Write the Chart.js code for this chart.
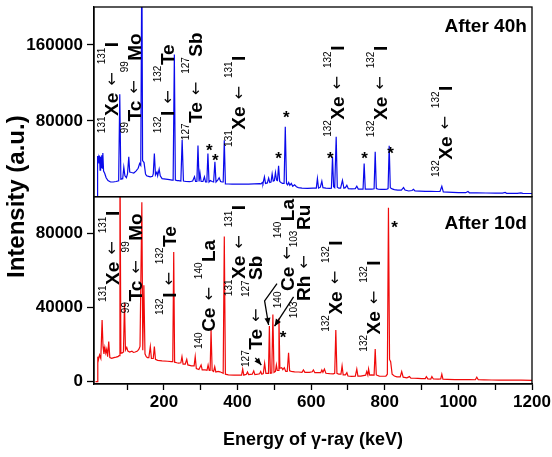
<!DOCTYPE html>
<html><head><meta charset="utf-8">
<script src="https://cdn.jsdelivr.net/npm/chart.js@4/dist/chart.umd.min.js"></script>
<style>html,body{margin:0;padding:0;background:#fff}#c{display:block}</style>
</head><body>
<canvas id="c" width="552" height="457"></canvas>
<script>
// ---------- data ----------
const energy40h = [15,18.5,19,20.5,22,23.5,25,26.5,28,29.5,31,32.5,34,36,39,43,48,55,62,70,77,80,83,88,91,94,98,101,104.5,107,112,118,124,130,134,137,140,142,146,150,153,158,163,169,171,174,177,181,183,187,190,195,205,215,222,225,228.3,231,236,240,246,249.5,253,260,270,278,283,286,289.5,292.5,295.5,298,301,306,310,313,316.5,319.5,322.5,326,331,335,338.5,341.5,346,350,354,358,361,364,367,375,385,400,415,430,445,460,464,467,469,473,476,481,484.5,487.5,491,494,497,500,503,506,508.5,511.5,514.5,518,522,526.5,529.7,533,536,539,542,546,550,555,560,565,575,590,605,614,617,620,625,629,632,640,650,655,658,661,664,668,671,675,680,685,689,693,697,701,710,720,724,728,735,741,744,747,755,765,771,774,777,782,790,800,806,809,812,815,820,826,835,845,851,855,865,874,878,882,895,910,925,940,950,955,959,970,985,1000,1020,1026,1030,1050,1075,1100,1120,1127,1131,1145,1160,1170,1175,1200];
const counts40h = [0,0,43000,36000,41000,35000,43500,28000,42000,31000,43700,30000,46000,27000,24700,20000,17000,15500,15500,16000,16800,108000,18500,19000,31000,22000,20000,24000,42000,26000,25500,25000,27000,30000,35000,33000,260000,38000,36000,24000,22000,21500,21000,21500,24000,45500,23000,26000,22000,29000,22000,19000,18500,18000,17500,17500,150000,17500,17000,17000,16500,60000,16500,16000,15800,16500,21000,16000,16000,54000,16000,25000,16000,16000,21000,15500,15500,45500,15500,17000,16000,15500,36700,15500,17500,20000,16000,15500,15500,59600,13500,13400,13300,13300,13200,13200,13500,13800,13500,15000,13700,20800,14000,14500,19500,15000,15500,24000,16500,17000,25500,17500,17000,32500,16000,15000,14000,14000,73700,14000,12500,15000,12000,14000,11000,12500,10500,9600,9000,8800,9000,9000,19100,9000,10000,16300,9500,9000,8800,9000,42000,10500,9500,63100,10000,9000,9000,17300,9000,9500,12000,8500,8200,8500,11000,8000,8000,8000,35000,8000,8000,8000,8300,47300,8500,8000,7800,7800,8000,8500,53600,9500,8200,7500,7000,7000,9600,7000,6000,6500,7800,6000,5800,5600,5600,5500,5500,11000,5000,4800,4500,4300,4200,5500,4100,4000,3900,3800,3700,4500,3600,3600,3500,4000,3500,3400];

const energy10d = [14,19.5,20.3,22,25,28.5,32,34.5,37,39.5,42,44.5,47,50,53,58,64,70,75,78,80.5,83,87,90,92.8,95.5,99,102,107,113,117,122,128,132,135,140,142.5,145.5,148.5,152,155,159,163,166,171,174,177,183,195,210,220,224,226.6,229,235,240,246,249,252,258,262,265,275,282,285,288,295,301,304,312,317,320,323,325.5,328,331,335,338,341,347,352,358,361,364,367,375,390,405,411,414,417,424,427,430,440,444,447,455,460,463,466,470,473.6,477,481,484,486.5,489,493,496,499,503,505.5,508,510,512.5,515,520,523,527,531,535,538.6,541.5,546,555,566,575,579,583,595,603,606,610,620,626,629,632,636,640,650,660,664,667,670,675,681,684,687,693,697,700,710,720,724,727,735,748,751,754,756,759,764,771,774,777,785,795,803,807,810,813,816,820,826,833,842,846,850,860,867,871,880,890,900,910,913,917,925,928,932,945,952,955,958,970,990,1010,1030,1046,1050,1054,1070,1090,1110,1130,1150,1170,1200];
const counts10d = [0,0,13500,11700,14400,12500,33300,18900,15000,18500,15500,17500,13500,21600,13000,12600,13000,13200,13500,14000,130000,15300,15500,16000,42600,17100,18500,16500,16000,16500,15800,16000,16500,17500,19000,97000,17000,52100,15000,13500,13000,13000,18900,12500,12500,19000,12000,11500,11200,11000,10800,10800,70100,10500,10200,10000,10200,13500,9500,9500,12000,9000,8500,8500,13500,7000,6500,9000,6300,6300,6100,9000,6000,6000,27900,6000,5500,8000,5200,5500,5300,4800,4500,78500,4000,3600,3500,3500,3500,6800,3500,4000,5200,3800,4000,5800,3800,4000,4200,5500,4000,4300,9900,4500,4500,4500,30000,4500,4700,36300,5000,5500,9000,6000,6000,34200,7200,7500,6500,7500,5500,5500,15600,5800,5500,5300,5200,5000,6300,5000,5000,5300,6300,4800,4800,4800,6300,5000,6800,4500,4300,4200,4500,27900,4500,4000,4000,8500,3600,3600,4800,3000,2800,2900,6800,3000,3000,3500,5400,3500,6800,3500,3600,3500,17600,3600,3000,2900,3000,4000,94000,12000,10800,4000,3000,2600,2500,5400,2400,2000,2700,1900,1800,1700,1600,1600,2700,1500,1400,2700,1400,1300,1400,4000,1300,1200,1100,1100,1050,1000,2400,1000,900,850,800,800,750,750,700];

const xTicks = [100,200,300,400,500,600,700,800,900,1000,1100,1200];
const xTickLabels = [200,400,600,800,1000,1200];
const topTicks = [80000,160000];
const bottomTicks = [0,40000,80000];
const panelTitles = ['After 40h','After 10d'];
const xTitle = 'Energy of γ-ray (keV)';
const yTitle = 'Intensity (a.u.)';

// ---------- annotations (data coordinates: energy keV, intensity) ----------
const topLabels = [
  {e:56.9,  v:67000, t:'^131Xe ←^131I'},
  {e:118,   v:67000, t:'^99Tc ←^99Mo'},
  {e:209.5, v:67000, t:'^132I ←^132Te'},
  {e:285.4, v:59600, t:'^127Te ←^127Sb'},
  {e:403,   v:52500, t:'^131Xe ←^131I'},
  {e:670,   v:63100, t:'^132Xe ←^132I'},
  {e:787.5, v:62800, t:'^132Xe ←^132I'},
  {e:964,   v:20800, t:'^132Xe ←^132I'}
];
const bottomLabels = [
  {e:59.4,  v:43000, t:'^131Xe ←^131I'},
  {e:122.6, v:37000, t:'^99Tc ←^99Mo'},
  {e:213,   v:36000, t:'^132I ←^132Te'},
  {e:321.5, v:17600, t:'^140Ce ←^140La'},
  {e:403,   v:46200, t:'^131Xe ←^131I'},
  {e:448.3, v:7900,  t:'^127Te ←'},
  {e:448.3, v:45700, t:'^127Sb'},
  {e:534.3, v:39700, t:'^140Ce ←^140La'},
  {e:579.3, v:34300, t:'^103Rh ←^103Ru'},
  {e:665.3, v:26950, t:'^132Xe ←^132I'},
  {e:769.3, v:16200, t:'^132Xe ←^132I'}
];
const topStars = [[323.4,53300],[339.7,43000],[511.5,44800],[532.4,87800],[651.8,44800],[744.9,44800],[815.5,50100]];
const bottomStars = [[523.4,26400],[826.3,85900]];
const bottomPointers = [
  [[507.2,53000],[473.5,43700],[484.4,30600]],
  [[552.2,45800],[500.6,30000]],
  [[448.3,12800],[464.5,9000]]
];
const panelTitlePos = [[1186,181200],[1186,86240]];

// ---------- drawing ----------
const FAM = "'Liberation Sans', Arial, Helvetica, sans-serif";
const MAIN_FONT = "bold 19px " + FAM;
const SUP_FONT = "10px " + FAM;
const ARROW_FONT = "16px 'DejaVu Sans', sans-serif";

function drawRotated(ctx, x, y, spec) {
  ctx.save();
  ctx.translate(x, y);
  ctx.rotate(-Math.PI / 2);
  ctx.textAlign = 'left';
  ctx.textBaseline = 'alphabetic';
  ctx.fillStyle = '#000';
  let s = 0;
  const re = /\^(\d+)|(←)|([^\^←\s]+)/g;
  let m;
  while ((m = re.exec(spec)) !== null) {
    if (m[1]) { ctx.font = SUP_FONT; ctx.fillText(m[1], s, -6.2); s += ctx.measureText(m[1]).width + 0.5; }
    else if (m[2]) { s += 7; ctx.font = ARROW_FONT; ctx.fillText('←', s, 5.3); s += ctx.measureText('←').width + 8; }
    else { ctx.font = MAIN_FONT; ctx.fillText(m[3], s, 6.8); s += ctx.measureText(m[3]).width; }
  }
  ctx.restore();
}

const clipPlugin = {
  id: 'panelClip',
  beforeDatasetDraw(chart, args) {
    const y = args.meta.yScale, a = chart.chartArea, ctx = chart.ctx;
    ctx.save();
    ctx.beginPath();
    ctx.rect(a.left, y.top, a.right - a.left, y.bottom - y.top);
    ctx.clip();
  },
  afterDatasetDraw(chart) { chart.ctx.restore(); }
};

const annotPlugin = {
  id: 'annot',
  afterDraw(chart) {
    const ctx = chart.ctx, a = chart.chartArea, x = chart.scales.x;
    const yT = chart.scales.yTop, yB = chart.scales.yBottom;
    ctx.save();
    ctx.strokeStyle = '#000'; ctx.lineWidth = 1.3;
    [yT, yB].forEach(s => ctx.strokeRect(a.left, s.top, a.right - a.left, s.bottom - s.top));
    ctx.restore();
    topLabels.forEach(l => drawRotated(ctx, x.getPixelForValue(l.e), yT.getPixelForValue(l.v), l.t));
    bottomLabels.forEach(l => drawRotated(ctx, x.getPixelForValue(l.e), yB.getPixelForValue(l.v), l.t));
    ctx.save();
    ctx.fillStyle = '#000'; ctx.font = 'bold 17px ' + FAM; ctx.textAlign = 'center'; ctx.textBaseline = 'alphabetic';
    topStars.forEach(p => ctx.fillText('*', x.getPixelForValue(p[0]), yT.getPixelForValue(p[1]) + 10));
    bottomStars.forEach(p => ctx.fillText('*', x.getPixelForValue(p[0]), yB.getPixelForValue(p[1]) + 10));
    ctx.font = 'bold 19px ' + FAM; ctx.textAlign = 'right';
    ctx.fillText(panelTitles[0], x.getPixelForValue(panelTitlePos[0][0]), yT.getPixelForValue(panelTitlePos[0][1]) + 6.8);
    ctx.fillText(panelTitles[1], x.getPixelForValue(panelTitlePos[1][0]), yB.getPixelForValue(panelTitlePos[1][1]) + 6.8);
    ctx.strokeStyle = '#000'; ctx.lineWidth = 1.3;
    bottomPointers.forEach(pts => {
      const px = pts.map(p => [x.getPixelForValue(p[0]), yB.getPixelForValue(p[1])]);
      ctx.beginPath();
      px.forEach((p, i) => i ? ctx.lineTo(p[0], p[1]) : ctx.moveTo(p[0], p[1]));
      ctx.stroke();
      const [x1, y1] = px[px.length - 2], [x2, y2] = px[px.length - 1];
      const ang = Math.atan2(y2 - y1, x2 - x1);
      ctx.beginPath();
      ctx.moveTo(x2, y2);
      ctx.lineTo(x2 - 7 * Math.cos(ang) + 3 * Math.sin(ang), y2 - 7 * Math.sin(ang) - 3 * Math.cos(ang));
      ctx.lineTo(x2 - 7 * Math.cos(ang) - 3 * Math.sin(ang), y2 - 7 * Math.sin(ang) + 3 * Math.cos(ang));
      ctx.closePath(); ctx.fillStyle = '#000'; ctx.fill();
    });
    ctx.translate(a.left - 77, yT.bottom);
    ctx.rotate(-Math.PI / 2);
    ctx.font = 'bold 24px ' + FAM; ctx.textAlign = 'center'; ctx.textBaseline = 'middle';
    ctx.fillText(yTitle, 0, 0);
    ctx.restore();
  }
};

const tickFont = {family: FAM, size: 17, weight: 'bold'};
function yAxis(ticks, min, max, weight, sw) {
  return {
    type: 'linear', position: 'left', stack: 'panels', stackWeight: sw, weight: weight,
    min: min, max: max,
    afterBuildTicks: s => { s.ticks = ticks.map(v => ({value: v})); },
    afterFit: s => { s.width = 94; s.paddingTop = 0; s.paddingBottom = 0; },
    ticks: {color: '#000', font: tickFont, padding: 4, callback: v => String(v)},
    grid: {display: true, drawOnChartArea: false, drawTicks: true, tickLength: 7, color: '#000', tickWidth: 1.3},
    border: {display: true, color: '#000', width: 1.3}
  };
}

new Chart(document.getElementById('c').getContext('2d'), {
  type: 'line',
  data: {
    datasets: [
      {label: panelTitles[0], data: energy40h.map((e, i) => ({x: e, y: counts40h[i]})), yAxisID: 'yTop',
       borderColor: 'rgb(10,10,235)', borderWidth: 1.2, pointRadius: 0, tension: 0, fill: false},
      {label: panelTitles[1], data: energy10d.map((e, i) => ({x: e, y: counts10d[i]})), yAxisID: 'yBottom',
       borderColor: 'rgb(240,10,10)', borderWidth: 1.2, pointRadius: 0, tension: 0, fill: false}
    ]
  },
  options: {
    responsive: false, animation: false, devicePixelRatio: 1,
    layout: {padding: {left: 0, right: 20, top: 7, bottom: 0}},
    plugins: {legend: {display: false}, tooltip: {enabled: false}},
    scales: {
      x: {
        type: 'linear', position: 'bottom', min: 10, max: 1200,
        afterBuildTicks: s => { s.ticks = xTicks.map(v => ({value: v})); },
        afterFit: s => { s.height = 73; s.paddingLeft = 0; s.paddingRight = 0; },
        ticks: {autoSkip: false, maxRotation: 0, padding: 2, color: '#000', font: tickFont,
                callback: v => xTickLabels.includes(v) ? String(v) : ''},
        grid: {display: true, drawOnChartArea: false, drawTicks: true, tickLength: 6, color: '#000', tickWidth: 1.3},
        border: {display: true, color: '#000', width: 1.3},
        title: {display: true, text: xTitle, color: '#000', font: {family: FAM, size: 18, weight: 'bold'}, padding: {top: 0, bottom: 6}}
      },
      yBottom: yAxis(bottomTicks, -1300, 100000, 1, 187.3),
      yTop: yAxis(topTicks, 0, 200000, 2, 189.7)
    }
  },
  plugins: [clipPlugin, annotPlugin]
});
</script>
</body></html>
